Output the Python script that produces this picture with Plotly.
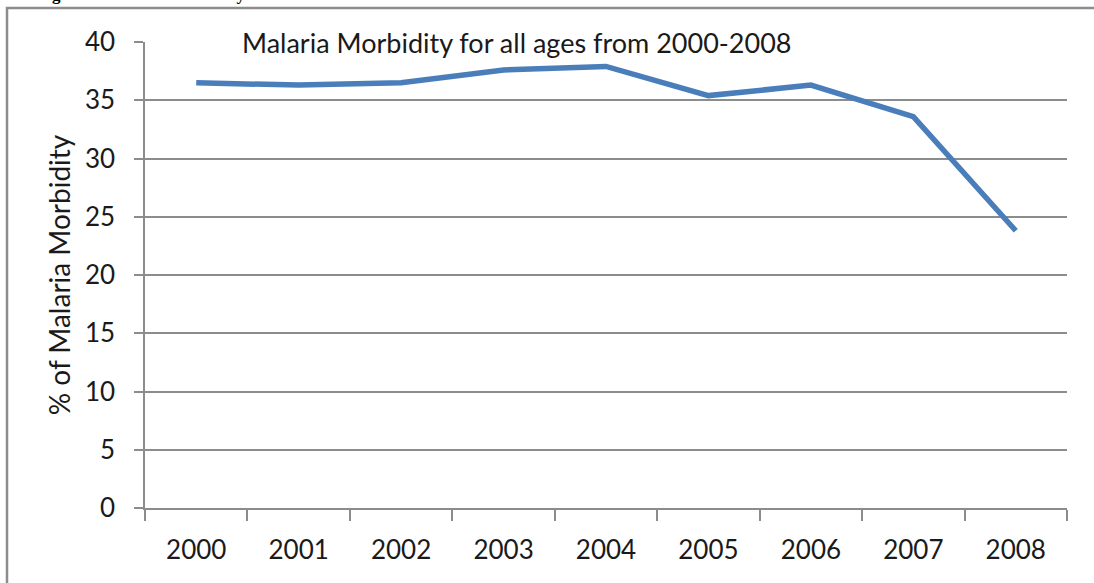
import plotly.graph_objects as go

years = ["2000", "2001", "2002", "2003", "2004", "2005", "2006", "2007", "2008"]
morbidity = [36.5, 36.3, 36.5, 37.6, 37.9, 35.4, 36.3, 33.6, 23.8]
y_ticks = [0, 5, 10, 15, 20, 25, 30, 35, 40]

FONT = "Lato"
W_PLOT = 1067 - 145
H_PLOT = 508 - 42

fig = go.Figure()
fig.add_trace(go.Scatter(
    x=years, y=morbidity, mode="lines",
    line=dict(color="#4a7ebb", width=5.5),
    showlegend=False, hoverinfo="skip",
))

fig.update_layout(
    width=1094, height=583,
    margin=dict(l=145, r=27, t=42, b=75),
    paper_bgcolor="white", plot_bgcolor="white",
    font=dict(family=FONT, size=26, color="#1a1a1a"),
    xaxis=dict(
        type="category", tickson="boundaries",
        showgrid=False, showline=True, linecolor="#8c8c8c", linewidth=1.5,
        ticks="outside", ticklen=11, tickcolor="#8c8c8c", tickwidth=1.5,
        tickfont=dict(size=26), ticklabelstandoff=18,
        range=[-0.5, 8.5],
    ),
    yaxis=dict(
        range=[0, 40], tickvals=y_ticks,
        showgrid=True, gridcolor="#8c8c8c", gridwidth=1.5,
        showline=True, linecolor="#8c8c8c", linewidth=1.5,
        ticks="outside", ticklen=9, tickcolor="#8c8c8c", tickwidth=1.5,
        tickfont=dict(size=26), ticklabelstandoff=14,
        zeroline=False,
        title=dict(text="% of Malaria Morbidity", font=dict(size=28), standoff=6),
    ),
    shapes=[dict(type="rect", xref="paper", yref="paper",
                 x0=(7 - 145) / W_PLOT, x1=1.2, y0=-0.3, y1=(508 - 8) / H_PLOT,
                 line=dict(color="#8c8c8c", width=2.5), fillcolor="rgba(0,0,0,0)", layer="below")],
    annotations=[
        dict(text="Malaria Morbidity for all ages from 2000-2008", xref="paper", yref="paper",
             x=(517 - 145) / W_PLOT, y=1.0, xanchor="center", yanchor="middle", showarrow=False,
             font=dict(size=27, family=FONT, color="#1a1a1a")),
        dict(text="<b>Figure 1: Malaria Morbidity trend from 2000-2008</b>", xref="paper", yref="paper",
             x=(35 - 145) / W_PLOT, y=(508 - 6) / H_PLOT, xanchor="left", yanchor="bottom", showarrow=False,
             font=dict(size=17, family="Liberation Serif", color="black")),
    ],
)

fig.write_html("out.html")
